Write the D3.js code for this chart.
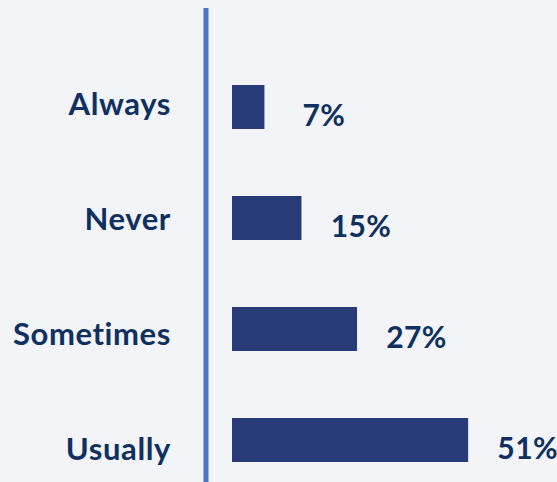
<!DOCTYPE html>
<html><head><meta charset="utf-8">
<script src="https://cdn.jsdelivr.net/npm/d3@7"></script>
<style>html,body{margin:0;padding:0;background:#f2f4f8;}svg{display:block;}</style>
</head><body>
<script>
const categories = ["Always", "Never", "Sometimes", "Usually"];
const values = [7, 15, 27, 51];
const valueLabels = ["7%", "15%", "27%", "51%"];

const W = 557, H = 482;
const svg = d3.select("body").append("svg").attr("width", W).attr("height", H);
svg.append("rect").attr("width", W).attr("height", H).attr("fill", "#f2f4f8");

const x = d3.scaleLinear().domain([0, 100]).range([232, 695]);
const yc = d3.scalePoint().domain(categories).range([107, 440]);
const yl = d3.scalePoint().domain(categories).range([114.5, 459.5]);
const barH = 44;
const font = "Lato, 'Open Sans', sans-serif";

svg.append("line").attr("x1", 206).attr("x2", 206).attr("y1", 8).attr("y2", H)
  .attr("stroke", "#4a76c8").attr("stroke-width", 5);

const data = categories.map((c, i) => ({c, v: values[i], l: valueLabels[i]}));

svg.selectAll("rect.bar").data(data).join("rect").attr("class", "bar")
  .attr("x", x(0)).attr("y", d => yc(d.c) - barH / 2)
  .attr("width", d => x(d.v) - x(0)).attr("height", barH)
  .attr("fill", "#263b78");

svg.selectAll("text.cat").data(data).join("text").attr("class", "cat")
  .attr("x", 171).attr("y", d => yl(d.c)).attr("text-anchor", "end")
  .attr("font-family", font).attr("font-weight", 700).attr("font-size", 31)
  .attr("letter-spacing", "0.6px")
  .attr("fill", "#0f3060").text(d => d.c);

svg.selectAll("text.val").data(data).join("text").attr("class", "val")
  .attr("x", d => x(d.v) + 59.5).attr("y", d => yc(d.c) + barH / 2 - 3.5).attr("text-anchor", "middle")
  .attr("font-family", font).attr("font-weight", 700).attr("font-size", 30)
  .attr("letter-spacing", "0.4px")
  .attr("fill", "#0f3060").text(d => d.l);
</script>
</body></html>
